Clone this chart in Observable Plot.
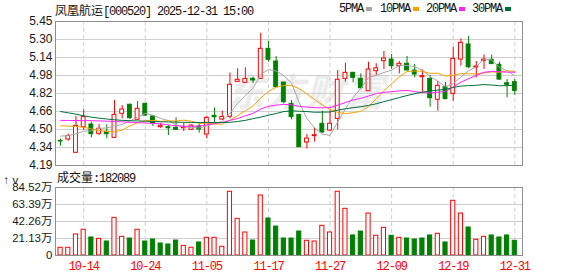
<!DOCTYPE html>
<html><head><meta charset="utf-8">
<script src="https://cdn.jsdelivr.net/npm/d3@7"></script>
<script src="https://cdn.jsdelivr.net/npm/@observablehq/plot@0.6"></script>
<style>
body{margin:0;background:#fff;}
#wrap{position:relative;width:578px;height:276px;overflow:hidden;}
.abs{position:absolute;white-space:nowrap;}
.mono{font-family:"Liberation Mono",monospace;letter-spacing:-1.2px;}
.cjk{font-family:"Noto Sans CJK SC",sans-serif;}
svg{position:absolute;left:0;}
g[aria-label="x-axis tick label"] text{letter-spacing:-1.2px;}
</style></head><body><div id="wrap"></div>
<script>
const stockName = "凤凰航运";
const stockCode = "000520";
const stamp = "2025-12-31 15:00";
const dates = ["10-09","10-10","10-13","10-14","10-15","10-16","10-17","10-20","10-21","10-22","10-23","10-24","10-27","10-28","10-29","10-30","10-31","11-03","11-04","11-05","11-06","11-07","11-10","11-11","11-12","11-13","11-14","11-17","11-18","11-19","11-20","11-21","11-24","11-25","11-26","11-27","11-28","12-01","12-02","12-03","12-04","12-05","12-08","12-09","12-10","12-11","12-12","12-15","12-16","12-17","12-18","12-19","12-22","12-23","12-24","12-25","12-26","12-29","12-30","12-31"];
const open  = [4.405,4.417,4.301,4.525,4.549,4.467,4.485,4.432,4.642,4.721,4.590,4.730,4.619,4.525,4.525,4.520,4.516,4.502,4.531,4.461,4.625,4.592,4.616,4.922,4.913,4.948,4.948,5.211,5.100,4.916,4.730,4.633,4.391,4.447,4.555,4.496,4.598,4.948,5.001,4.948,4.840,5.015,5.103,5.117,5.059,5.080,5.021,4.963,4.948,4.765,4.875,4.817,5.117,5.249,5.047,5.106,5.115,5.071,4.910,4.919];
const high  = [4.420,4.464,4.620,4.677,4.569,4.549,4.546,4.759,4.715,4.729,4.750,4.735,4.627,4.560,4.540,4.607,4.560,4.546,4.555,4.619,4.694,4.665,5.000,5.036,5.045,4.963,5.348,5.278,5.144,4.916,4.759,4.633,4.461,4.520,4.665,4.677,5.021,5.085,5.001,4.992,5.094,5.080,5.187,5.161,5.100,5.144,5.074,5.027,4.977,4.925,4.916,5.225,5.298,5.319,5.100,5.158,5.155,5.094,4.942,4.942];
const low   = [4.359,4.403,4.301,4.496,4.432,4.452,4.423,4.432,4.598,4.592,4.584,4.620,4.531,4.516,4.452,4.496,4.487,4.496,4.473,4.423,4.566,4.584,4.598,4.922,4.913,4.905,4.948,5.094,4.875,4.730,4.590,4.350,4.333,4.394,4.473,4.485,4.502,4.919,4.913,4.861,4.840,4.977,5.030,5.030,4.992,5.021,4.957,4.823,4.700,4.665,4.770,4.753,5.059,5.036,4.957,5.030,5.077,4.934,4.782,4.805];
const close = [4.400,4.449,4.537,4.613,4.464,4.511,4.464,4.633,4.680,4.604,4.686,4.627,4.555,4.537,4.516,4.502,4.525,4.540,4.505,4.607,4.612,4.615,4.896,4.940,4.948,4.934,5.211,5.115,4.875,4.744,4.613,4.350,4.426,4.455,4.479,4.555,4.940,5.001,4.957,4.867,5.030,5.040,5.126,5.059,5.080,5.021,4.986,4.972,4.779,4.887,4.770,5.123,5.263,5.050,5.056,5.117,5.077,4.942,4.896,4.843];
const prevClose = 4.38;
// volume in 万 (10k)
const volume = [9.6,9.6,26.1,32.0,22.4,20.7,17.4,46.8,23.2,21.1,32.0,17.4,19.9,14.9,13.7,18.6,12.0,9.6,16.2,22.0,22.0,10.8,79.2,45.6,28.6,18.6,74.6,46.0,36.0,21.1,21.1,29.8,18.3,17.4,36.9,28.6,79.2,58.0,24.9,29.8,52.2,24.5,34.4,24.5,22.0,21.1,19.9,21.1,24.9,27.0,16.2,68.0,52.2,34.8,19.5,23.2,24.9,22.4,24.9,18.2089];
const ma5  = [4.447,4.452,4.467,4.490,4.493,4.515,4.518,4.537,4.550,4.578,4.613,4.646,4.630,4.602,4.584,4.547,4.527,4.524,4.518,4.536,4.558,4.576,4.647,4.734,4.802,4.867,4.986,5.030,5.017,4.976,4.912,4.739,4.602,4.518,4.465,4.453,4.571,4.686,4.786,4.864,4.959,4.979,5.004,5.024,5.067,5.065,5.054,5.024,4.968,4.929,4.879,4.906,4.964,5.019,5.052,5.122,5.113,5.048,5.018,4.975];
const ma10 = [4.537,4.535,4.532,4.525,4.510,4.497,4.487,4.485,4.500,4.536,4.564,4.582,4.584,4.576,4.581,4.580,4.587,4.577,4.560,4.560,4.553,4.551,4.586,4.626,4.669,4.712,4.781,4.838,4.875,4.889,4.889,4.863,4.816,4.767,4.720,4.682,4.655,4.644,4.652,4.664,4.706,4.775,4.845,4.905,4.966,5.012,5.017,5.014,4.996,4.998,4.972,4.980,4.994,4.993,4.991,5.000,5.009,5.006,5.018,5.014];
const ma20 = [4.585,4.584,4.584,4.583,4.582,4.580,4.578,4.575,4.572,4.568,4.565,4.562,4.558,4.555,4.545,4.538,4.534,4.532,4.535,4.545,4.558,4.567,4.585,4.601,4.625,4.646,4.684,4.708,4.718,4.725,4.721,4.707,4.701,4.696,4.695,4.697,4.718,4.741,4.764,4.777,4.798,4.819,4.830,4.836,4.843,4.847,4.836,4.829,4.824,4.831,4.839,4.878,4.920,4.949,4.978,5.006,5.013,5.010,5.007,5.006];
const ma30 = [4.662,4.651,4.639,4.625,4.613,4.604,4.597,4.590,4.585,4.582,4.580,4.578,4.575,4.573,4.571,4.569,4.568,4.567,4.566,4.566,4.566,4.566,4.568,4.575,4.585,4.600,4.613,4.630,4.645,4.662,4.669,4.665,4.662,4.656,4.657,4.658,4.674,4.686,4.696,4.704,4.716,4.730,4.749,4.766,4.785,4.802,4.818,4.832,4.841,4.850,4.856,4.873,4.885,4.889,4.892,4.898,4.894,4.888,4.889,4.892];
const maNames = ["5PMA","10PMA","20PMA","30PMA"];
const maColors = ["#a6a6a6","#f5a300","#ff22ff","#00703a"];
const priceTickLabels = ["4.19","4.34","4.50","4.66","4.82","4.98","5.14","5.30","5.45"];
const volTickLabels = ["0","21.13万","42.26万","63.39万","84.52万"];
const xLabels = ["10-14","10-24","11-05","11-17","11-27","12-09","12-19","12-31"];

const RED = "#ff0000", GREEN = "#008000", GRID = "#cfcfcf", FRAME = "#8e8e8e";
const wrap = document.getElementById("wrap");
const N = dates.length;
const idx = d3.range(N);
const xDomain = [-0.66, N];
const labelIdx = xLabels.map(s => dates.indexOf(s));

const yMin = +priceTickLabels[0], yMax = +priceTickLabels[priceTickLabels.length - 1];
const pStep = (yMax - yMin) / (priceTickLabels.length - 1);
const pTicks = priceTickLabels.map((s, k) => yMin + k * pStep);
const vMax = parseFloat(volTickLabels[volTickLabels.length - 1]);
const vStep = vMax / (volTickLabels.length - 1);
const vTicks = volTickLabels.map((s, k) => k * vStep);

const candles = idx.map(i => ({i, o: open[i], h: high[i], l: low[i], c: close[i], up: close[i] > open[i]}));
const vols = idx.map(i => ({i, v: volume[i], up: close[i] >= (i ? close[i - 1] : prevClose)}));
const mas = [ma5, ma10, ma20, ma30];

// watermark
const wm = document.createElement("div");
wm.className = "abs cjk";
wm.style.cssText = "left:226px;top:62px;font-size:38px;font-weight:bold;font-style:italic;color:#ececec;letter-spacing:2px;";
wm.textContent = "东方财富";
wrap.appendChild(wm);

const common = {
  width: 578, marginLeft: 55, marginRight: 56,
  style: {background: "transparent", fontFamily: '"Liberation Sans","Noto Sans CJK SC",sans-serif', fontSize: "12px", color: "#1a1a1a", overflow: "visible"}
};

const cw = 0.25, vw = 0.27;
const price = Plot.plot({
  ...common,
  height: 172, marginTop: 21, marginBottom: 7,
  x: {type: "linear", domain: xDomain, axis: null},
  y: {domain: [yMin, yMax], axis: null},
  marks: [
    Plot.ruleY(pTicks.slice(1, -1), {stroke: GRID}),
    Plot.ruleX(labelIdx, {stroke: GRID, strokeDasharray: "4,3"}),
    Plot.axisY({ticks: pTicks, tickFormat: d => priceTickLabels[Math.round((d - yMin) / pStep)], tickSize: 0, tickPadding: 3, fontSize: 12}),
    Plot.ruleX(candles, {x: "i", y1: "l", y2: "h", stroke: d => d.up ? RED : GREEN}),
    Plot.rect(candles.filter(d => d.up), {x1: d => d.i - cw, x2: d => d.i + cw, y1: "o", y2: "c", fill: "white", stroke: RED}),
    Plot.rect(candles.filter(d => !d.up), {x1: d => d.i - cw, x2: d => d.i + cw, y1: "o", y2: "c", fill: GREEN, stroke: GREEN}),
    ...mas.map((m, k) => Plot.line(idx, {x: i => i, y: i => m[i], stroke: maColors[k], strokeWidth: 1})),
    Plot.frame({stroke: FRAME})
  ],
  color: {type: "identity"}
});
price.style.top = "0px";
wrap.appendChild(price);

const vol = Plot.plot({
  ...common,
  height: 104, marginTop: 15, marginBottom: 21,
  x: {type: "linear", domain: xDomain, axis: null},
  y: {domain: [0, vMax], axis: null},
  marks: [
    Plot.ruleY(vTicks.slice(1, -1), {stroke: GRID}),
    Plot.ruleX(labelIdx, {stroke: GRID, strokeDasharray: "4,3"}),
    Plot.axisY({ticks: vTicks, tickFormat: d => volTickLabels[Math.round(d / vStep)], tickSize: 0, tickPadding: 3, fontSize: 11.5}),
    Plot.axisX({ticks: labelIdx, tickFormat: i => dates[i], tickSize: 0, tickPadding: 6, color: RED, fontSize: 12, fontFamily: '"Liberation Mono",monospace'}),
    Plot.rect(vols.filter(d => d.up), {x1: d => d.i - vw, x2: d => d.i + vw, y1: 0, y2: "v", fill: "white", stroke: RED}),
    Plot.rect(vols.filter(d => !d.up), {x1: d => d.i - vw, x2: d => d.i + vw, y1: 0, y2: "v", fill: GREEN, stroke: GREEN}),
    Plot.frame({stroke: FRAME})
  ]
});
vol.style.top = "172px";
wrap.appendChild(vol);

// title
const title = document.createElement("div");
title.className = "abs";
title.style.cssText = "left:55px;top:2px;font-size:12px;line-height:15px;color:#111;";
title.innerHTML = `<span class="cjk">${stockName}</span><span class="mono">[${stockCode}] ${stamp}</span>`;
wrap.appendChild(title);

// legend
const legX = [339, 380, 426, 472];
maNames.forEach((n, k) => {
  const t = document.createElement("div");
  t.className = "abs mono";
  t.style.cssText = `left:${legX[k]}px;top:2px;font-size:12px;line-height:15px;color:#111;`;
  t.textContent = n;
  wrap.appendChild(t);
  const sq = document.createElement("div");
  sq.className = "abs";
  sq.style.cssText = `left:${legX[k] + n.length * 6 + 3}px;top:7px;width:6px;height:4px;background:${maColors[k]};`;
  wrap.appendChild(sq);
});

// volume caption
const cap = document.createElement("div");
cap.className = "abs";
cap.style.cssText = "left:57px;top:169px;font-size:12px;line-height:15px;color:#111;";
cap.innerHTML = `<span class="cjk">成交量</span><span class="mono">:${Math.round(volume[N - 1] * 10000)}</span>`;
wrap.appendChild(cap);
</script></body></html>
